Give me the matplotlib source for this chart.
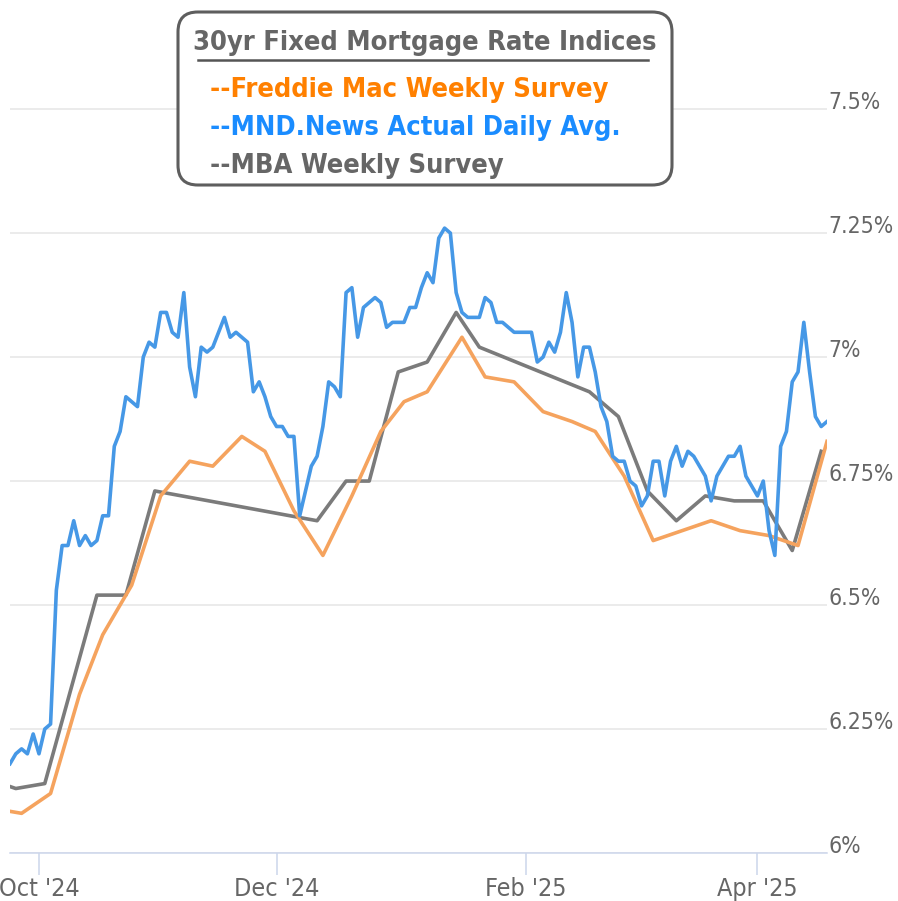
import numpy as np
import matplotlib.pyplot as plt
from matplotlib.patches import FancyBboxPatch
from matplotlib.lines import Line2D

plt.rcParams['font.family'] = ['DejaVu Sans']
plt.rcParams['font.stretch'] = 'condensed'
plt.rcParams['ytick.alignment'] = 'baseline'

# the x axis is ordinal: one slot per business day, starting at start_day
start_day = "2024-09-24"
closed_days = ["2024-10-14", "2024-11-11", "2024-11-28",
               "2025-01-01", "2025-01-20", "2025-02-17"]

# MND.News daily average, one value per business day from start_day
mnd_rates = [
    6.18, 6.20, 6.21, 6.20, 6.24,              # Sep 24-30
    6.20, 6.25, 6.26, 6.53,                    # Oct 1-4
    6.62, 6.62, 6.67, 6.62, 6.64,              # Oct 7-11
    6.62, 6.63, 6.68, 6.68,                    # Oct 15-18
    6.82, 6.85, 6.92, 6.91, 6.90,              # Oct 21-25
    7.00, 7.03, 7.02, 7.09, 7.09,              # Oct 28-Nov 1
    7.05, 7.04, 7.13, 6.98, 6.92,              # Nov 4-8
    7.02, 7.01, 7.02, 7.05,                    # Nov 12-15
    7.08, 7.04, 7.05, 7.04, 7.03,              # Nov 18-22
    6.93, 6.95, 6.92, 6.88,                    # Nov 25-29
    6.86, 6.86, 6.84, 6.84, 6.68,              # Dec 2-6
    6.73, 6.78, 6.80, 6.86, 6.95,              # Dec 9-13
    6.94, 6.92, 7.13, 7.14, 7.04,              # Dec 16-20
    7.10, 7.11, 7.12, 7.11, 7.06,              # Dec 23-27
    7.07, 7.07,                                # Dec 30-31
    7.07, 7.10,                                # Jan 2-3
    7.10, 7.14, 7.17, 7.15, 7.24,              # Jan 6-10
    7.26, 7.25, 7.13, 7.09, 7.08,              # Jan 13-17
    7.08, 7.08, 7.12, 7.11,                    # Jan 21-24
    7.07, 7.07, 7.06, 7.05, 7.05,              # Jan 27-31
    7.05, 7.05, 6.99, 7.00, 7.03,              # Feb 3-7
    7.01, 7.05, 7.13, 7.07, 6.96,              # Feb 10-14
    7.02, 7.02, 6.97, 6.90,                    # Feb 18-21
    6.87, 6.80, 6.79, 6.79, 6.75,              # Feb 24-28
    6.74, 6.70, 6.72, 6.79, 6.79,              # Mar 3-7
    6.72, 6.79, 6.82, 6.78, 6.81,              # Mar 10-14
    6.80, 6.78, 6.76, 6.71, 6.76,              # Mar 17-21
    6.78, 6.80, 6.80, 6.82, 6.76,              # Mar 24-28
    6.74,                                      # Mar 31
    6.72, 6.75, 6.65, 6.60,                    # Apr 1-4
    6.82, 6.85, 6.95, 6.97, 7.07,              # Apr 7-11
    6.97, 6.88, 6.86, 6.87,                    # Apr 14-17
]

freddie_dates = ["2024-09-19", "2024-09-26", "2024-10-03", "2024-10-10", "2024-10-17",
                 "2024-10-24", "2024-10-31", "2024-11-07", "2024-11-14", "2024-11-21",
                 "2024-11-27", "2024-12-05", "2024-12-12", "2024-12-19", "2024-12-26",
                 "2025-01-02", "2025-01-08", "2025-01-16", "2025-01-23", "2025-01-30",
                 "2025-02-06", "2025-02-13", "2025-02-20", "2025-02-27", "2025-03-06",
                 "2025-03-13", "2025-03-20", "2025-03-27", "2025-04-03", "2025-04-10",
                 "2025-04-17"]
freddie_rates = [6.09, 6.08, 6.12, 6.32, 6.44, 6.54, 6.72, 6.79, 6.78, 6.84,
                 6.81, 6.69, 6.60, 6.72, 6.85, 6.91, 6.93, 7.04, 6.96, 6.95,
                 6.89, 6.87, 6.85, 6.76, 6.63, 6.65, 6.67, 6.65, 6.64, 6.62,
                 6.83]

mba_dates = ["2024-09-18", "2024-09-25", "2024-10-02", "2024-10-16", "2024-10-23",
             "2024-10-30", "2024-12-11", "2024-12-18", "2024-12-24", "2024-12-31",
             "2025-01-08", "2025-01-15", "2025-01-22", "2025-02-19", "2025-02-26",
             "2025-03-05", "2025-03-12", "2025-03-19", "2025-03-26", "2025-04-02",
             "2025-04-09", "2025-04-16"]
mba_rates = [6.15, 6.13, 6.14, 6.52, 6.52, 6.73, 6.67, 6.75, 6.75, 6.97,
             6.99, 7.09, 7.02, 6.93, 6.88, 6.73, 6.67, 6.72, 6.71, 6.71,
             6.61, 6.81]

month_ticks = ["2024-10-01", "2024-12-02", "2025-02-03", "2025-04-01"]
month_labels = ["Oct '24", "Dec '24", "Feb '25", "Apr '25"]

pct_ticks = [6.0, 6.25, 6.5, 6.75, 7.0, 7.25, 7.5]
pct_labels = ["6%", "6.25%", "6.5%", "6.75%", "7%", "7.25%", "7.5%"]


def slot(dates):
    # business-day position of each date on the ordinal axis
    return np.busday_count(start_day, np.array(dates, dtype="datetime64[D]"),
                           holidays=closed_days)


mnd_x = np.arange(len(mnd_rates))

W, H = 898, 901
fig = plt.figure(figsize=(W / 100, H / 100), dpi=100)
ax = fig.add_axes([10 / W, 48 / H, 817 / W, 853 / H])

ax.plot(slot(mba_dates), mba_rates, color='#7b7b7b', linewidth=2.6, zorder=2)
ax.plot(slot(freddie_dates), freddie_rates, color='#f5a35e', linewidth=2.6, zorder=3)
ax.plot(mnd_x, mnd_rates, color='#4698e6', linewidth=2.6, zorder=4)

ax.set_xlim(0, len(mnd_rates) - 1)
ax.set_ylim(6.0, 7.72)

ax.set_yticks(pct_ticks, pct_labels)
ax.yaxis.tick_right()
ax.tick_params(axis='y', length=0, pad=1, labelsize=16.5, labelcolor='#666666')
ax.yaxis.grid(True, color='#e6e6e6', linewidth=1.1)
ax.set_axisbelow(True)

ax.set_xticks(slot(month_ticks), month_labels)
ax.tick_params(axis='x', length=16, width=1.1, color='#ccd6eb', pad=1.5,
               labelsize=18, labelcolor='#666666')

for side in ['top', 'left', 'right']:
    ax.spines[side].set_visible(False)
ax.spines['bottom'].set_color('#ccd6eb')
ax.spines['bottom'].set_linewidth(1.1)
ax.spines['bottom'].set_zorder(5)


# legend box drawn by hand, in figure pixels
def fx(px):
    return px / W


def fy(py):
    return 1 - py / H


box = FancyBboxPatch((fx(178), fy(185)), fx(672) - fx(178), fy(12) - fy(185),
                     boxstyle="round,pad=0,rounding_size=0.022",
                     transform=fig.transFigure, facecolor='white',
                     edgecolor='#5e5e5e', linewidth=2.2, zorder=10)
fig.add_artist(box)

fig.text(fx(425), fy(50), "30yr Fixed Mortgage Rate Indices", ha='center', va='baseline',
         fontsize=19.5, fontweight='bold', color='#666666', zorder=11)
fig.add_artist(Line2D([fx(198), fx(648)], [fy(60), fy(60)], transform=fig.transFigure,
                      color='#555555', linewidth=1.8, zorder=11))

rows = [("--Freddie Mac Weekly Survey", '#ff8000', 97),
        ("--MND.News Actual Daily Avg.", '#1a8cff', 135),
        ("--MBA Weekly Survey", '#666666', 173)]
for txt, col, base in rows:
    fig.text(fx(210), fy(base), txt, ha='left', va='baseline', fontsize=19.5,
             fontweight='bold', color=col, zorder=11)

fig.savefig("out.png", dpi=100)
